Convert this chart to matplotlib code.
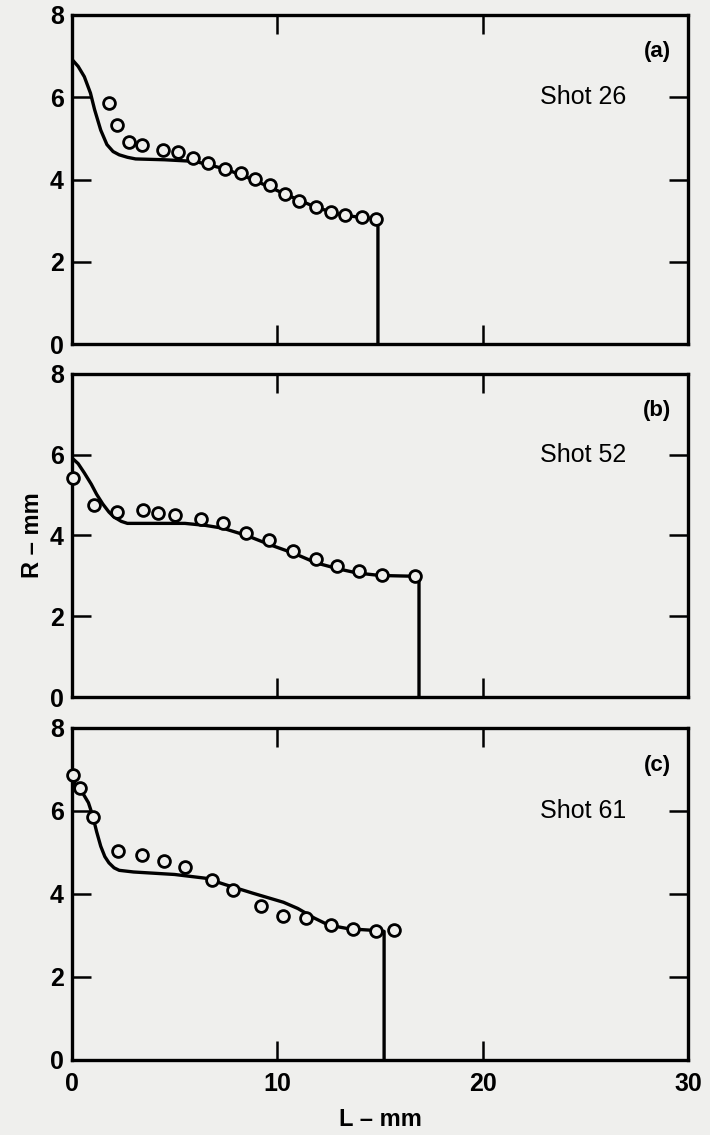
from matplotlib import pyplot as plt

plt.rcParams['font.family'] = ['Liberation Sans', 'DejaVu Sans']

# (a) Shot 26
a_line_x = [0, 0.3, 0.6, 0.9, 1.1, 1.4, 1.7, 2.0, 2.3, 2.7, 3.1, 4.5, 6.0, 7.5, 8.8, 10.4, 11.9, 13.2, 14.8, 14.9, 14.9]
a_line_y = [6.92, 6.75, 6.5, 6.1, 5.7, 5.2, 4.85, 4.68, 4.6, 4.54, 4.5, 4.48, 4.44, 4.25, 4.0, 3.64, 3.32, 3.13, 3.04, 3.0, 0]
a_pts_x = [1.78, 2.2, 2.76, 3.42, 4.45, 5.15, 5.88, 6.6, 7.46, 8.22, 8.9, 9.65, 10.37, 11.07, 11.86, 12.6, 13.3, 14.1, 14.8]
a_pts_y = [5.85, 5.32, 4.91, 4.84, 4.72, 4.66, 4.53, 4.41, 4.25, 4.15, 4.02, 3.86, 3.64, 3.48, 3.34, 3.22, 3.13, 3.08, 3.04]

# (b) Shot 52
b_line_x = [0, 0.3, 0.6, 0.94, 1.2, 1.5, 1.8, 2.04, 2.4, 2.7, 4.0, 5.5, 6.5, 7.35, 8.5, 9.7, 10.8, 11.9, 13.0, 13.9, 15.0, 16.7, 16.9, 16.9]
b_line_y = [5.92, 5.78, 5.55, 5.27, 5.02, 4.78, 4.58, 4.46, 4.35, 4.3, 4.3, 4.3, 4.25, 4.18, 4.0, 3.76, 3.56, 3.32, 3.17, 3.07, 3.01, 2.99, 2.98, 0]
b_pts_x = [0.07, 1.05, 2.2, 3.46, 4.17, 5.04, 6.3, 7.35, 8.46, 9.6, 10.77, 11.86, 12.9, 14.0, 15.1, 16.7]
b_pts_y = [5.43, 4.75, 4.58, 4.63, 4.55, 4.5, 4.41, 4.31, 4.05, 3.89, 3.62, 3.41, 3.24, 3.12, 3.03, 2.99]

# (c) Shot 61
c_line_x = [0, 0.5, 0.8, 1.0, 1.2, 1.4, 1.6, 1.8, 2.05, 2.3, 3.0, 5.0, 6.5, 7.5, 8.8, 10.3, 11.0, 11.8, 12.5, 13.5, 14.8, 15.2, 15.2]
c_line_y = [6.75, 6.45, 6.2, 5.9, 5.5, 5.15, 4.9, 4.75, 4.63, 4.57, 4.53, 4.47, 4.38, 4.22, 4.02, 3.8, 3.65, 3.42, 3.25, 3.16, 3.12, 3.1, 0]
c_pts_x = [0.04, 0.4, 1.0, 2.24, 3.42, 4.5, 5.48, 6.84, 7.83, 9.2, 10.3, 11.4, 12.6, 13.7, 14.8, 15.7]
c_pts_y = [6.87, 6.55, 5.86, 5.04, 4.94, 4.79, 4.65, 4.33, 4.09, 3.7, 3.48, 3.42, 3.26, 3.16, 3.1, 3.14]

panels = [
    ('(a)', 'Shot 26', a_line_x, a_line_y, a_pts_x, a_pts_y),
    ('(b)', 'Shot 52', b_line_x, b_line_y, b_pts_x, b_pts_y),
    ('(c)', 'Shot 61', c_line_x, c_line_y, c_pts_x, c_pts_y),
]

x_ticks = [0, 10, 20, 30]
y_ticks = [0, 2, 4, 6, 8]

# 轴的位置 (left, bottom, width, height)
boxes = [
    (0.1014, 0.6969, 0.8676, 0.2899),
    (0.1014, 0.3859, 0.8676, 0.2846),
    (0.1014, 0.0661, 0.8676, 0.2925),
]

bg = '#efefed'
fig = plt.figure(figsize=(7.1, 11.35), dpi=100, facecolor=bg)

for i, (tag, shot, lx, ly, px, py) in enumerate(panels):
    ax = fig.add_axes(boxes[i])
    ax.set_facecolor(bg)
    ax.plot(lx, ly, color='black', lw=2.4, solid_joinstyle='round', zorder=2)
    ax.plot(px, py, 'o', mfc=bg, mec='black', mew=2.0, ms=8.5, zorder=3, clip_on=False)
    ax.set_xlim(0, 30)
    ax.set_ylim(0, 8)
    ax.set_xticks(x_ticks)
    ax.set_yticks(y_ticks)
    ax.tick_params(direction='in', length=14, width=1.8, top=True, right=True,
                   labelsize=18, pad=6)
    ax.tick_params(axis='x', pad=9)
    for lab in ax.get_yticklabels() + ax.get_xticklabels():
        lab.set_fontweight('bold')
    if i < 2:
        ax.tick_params(labelbottom=False)
    for s in ax.spines.values():
        s.set_linewidth(2.4)
    ax.text(28.5, 7.1, tag, fontsize=16, fontweight='bold', ha='center', va='center')
    ax.text(27.0, 6.0, shot, fontsize=18, ha='right', va='center')
    if i == 1:
        ax.set_ylabel('R – mm', fontsize=17, fontweight='bold', labelpad=4)
    if i == 2:
        ax.set_xlabel('L – mm', fontsize=17, fontweight='bold', labelpad=8)

fig.savefig('out.png', dpi=100, facecolor=bg)
